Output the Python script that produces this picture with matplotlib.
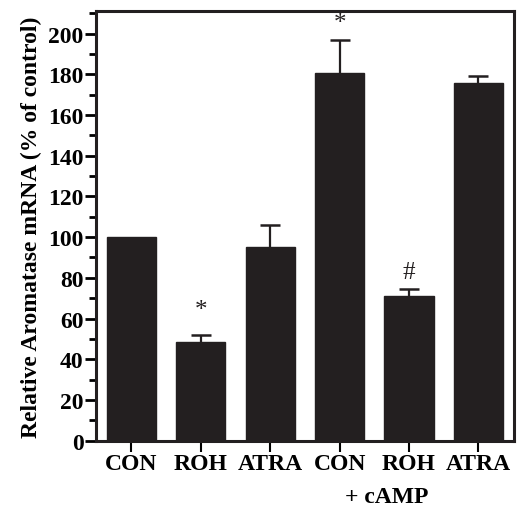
import matplotlib.pyplot as plt
from matplotlib.ticker import MultipleLocator

# data
labels = ["CON", "ROH", "ATRA", "CON", "ROH", "ATRA"]
values = [100, 48.6, 95.4, 180.8, 71, 175.9]
errors = [0, 3.3, 10.4, 16.2, 3.4, 3.5]
marks = ["", "*", "", "*", "#", ""]
mark_y = [None, 64, None, 205, 83, None]

plt.rcParams['font.family'] = ['Liberation Serif', 'DejaVu Serif']
plt.rcParams['font.weight'] = 'bold'

fig = plt.figure(figsize=(5.19, 5.10), dpi=100)
ax = fig.add_axes([0.185, 0.134, 0.805, 0.842])

x = list(range(len(values)))
ax.bar(x, values, width=0.71, color='#231f20', edgecolor='#231f20', zorder=2)
# CON has no visible error bar
ex = [xi for xi, e in zip(x, errors) if e > 0]
ev = [v for v, e in zip(values, errors) if e > 0]
ee = [e for e in errors if e > 0]
ax.errorbar(ex, ev, yerr=ee, fmt='none', ecolor='#231f20', elinewidth=1.6,
            capsize=7, capthick=1.8, zorder=1)

for xi, m, my in zip(x, marks, mark_y):
    if m:
        ax.text(xi, my, m, ha='center', va='center', fontsize=18,
                fontweight='normal', color='#231f20')

ax.set_xlim(-0.51, 5.51)
ax.set_ylim(0, 211)
ax.set_xticks(x)
ax.set_xticklabels(labels, fontsize=17, fontweight='bold')
ax.yaxis.set_major_locator(MultipleLocator(20))
ax.yaxis.set_minor_locator(MultipleLocator(10))
ax.tick_params(axis='y', which='major', direction='out', length=8, width=2,
               labelsize=17, pad=1)
ax.tick_params(axis='y', which='minor', direction='out', length=5, width=2)
ax.tick_params(axis='x', which='major', direction='out', length=8, width=1.5, pad=1)
for lbl in ax.get_yticklabels():
    lbl.set_fontweight('bold')

for s in ax.spines.values():
    s.set_linewidth(2.2)
    s.set_color('#231f20')

ax.set_ylabel('Relative Aromatase mRNA (% of control)', fontsize=17,
              fontweight='bold', labelpad=4)
fig.text(387 / 519, 1 - 498 / 510, '+ cAMP', ha='center', va='center',
         fontsize=17, fontweight='bold')

fig.savefig('out.png', dpi=100)
